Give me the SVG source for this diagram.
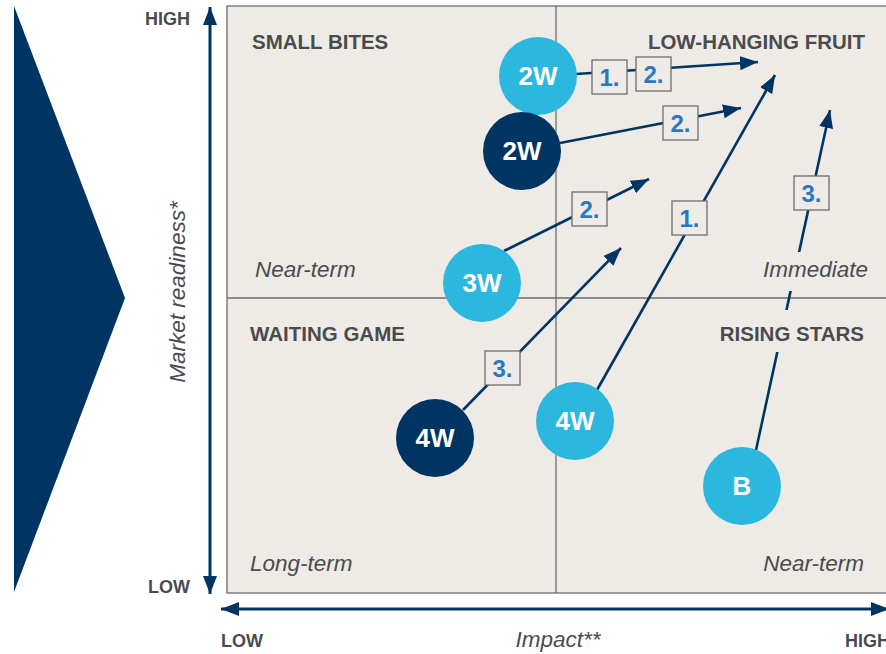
<svg xmlns="http://www.w3.org/2000/svg" width="886" height="654" viewBox="0 0 886 654">
<defs>
<marker id="ah" markerUnits="userSpaceOnUse" markerWidth="20" markerHeight="16" refX="18" refY="8" orient="auto">
<path d="M0,1 L18,8 L0,15 Z" fill="#003462"/>
</marker>
<marker id="ax" markerUnits="userSpaceOnUse" markerWidth="20" markerHeight="18" refX="18" refY="9" orient="auto-start-reverse">
<path d="M0,2 L18,9 L0,16 Z" fill="#003462"/>
</marker>
<style>
.q{font-family:"Liberation Sans",Arial,sans-serif;font-weight:bold;font-size:20.5px;fill:#4b4b4d}
.t{font-family:"Liberation Sans",Arial,sans-serif;font-style:italic;font-size:22.5px;fill:#4b4b4d}
.ax{font-family:"Liberation Sans",Arial,sans-serif;font-weight:bold;font-size:18px;fill:#4b4b4d}
.c{font-family:"Liberation Sans",Arial,sans-serif;font-size:26px;fill:#fff;text-anchor:middle;font-weight:bold}
.dk{fill:#003462}
.lt{fill:#2cb8de}
.cn{stroke:#003462;stroke-width:2.6;fill:none;marker-end:url(#ah)}
.bx{fill:#eeebe7;stroke:#6e6e6e;stroke-width:1.3}
.bt{font-family:"Liberation Sans",Arial,sans-serif;font-weight:bold;font-size:24px;fill:#2a78c2;text-anchor:middle}
.bg{fill:#eeebe7}
</style>
</defs>
<rect width="886" height="654" fill="#ffffff"/>
<polygon points="14,6 125,298 14,592" fill="#003462"/>
<g id="chart">
<rect x="227" y="6" width="662" height="587" fill="#eeebe7" stroke="#6e6e6e" stroke-width="1.3"/>
<line x1="556" y1="6" x2="556" y2="593" stroke="#6e6e6e" stroke-width="1.3"/>
<line x1="227" y1="298" x2="889" y2="298" stroke="#6e6e6e" stroke-width="1.3"/>
</g>
<g id="axes">
<line x1="210" y1="7" x2="210" y2="594" stroke="#003462" stroke-width="3" marker-start="url(#ax)" marker-end="url(#ax)"/>
<line x1="221" y1="609" x2="889" y2="609" stroke="#003462" stroke-width="3" marker-start="url(#ax)" marker-end="url(#ax)"/>
<text class="ax" x="190" y="25" text-anchor="end">HIGH</text>
<text class="ax" x="190" y="593" text-anchor="end">LOW</text>
<text class="ax" x="221" y="647">LOW</text>
<text class="ax" x="845" y="647">HIGH</text>
<text class="t" x="558" y="647" text-anchor="middle">Impact**</text>
<text class="t" transform="translate(185,292) rotate(-90)" text-anchor="middle">Market readiness*</text>
</g>
<g id="connectors">
<line class="cn" x1="576" y1="74" x2="758" y2="62"/>
<line class="cn" x1="560" y1="143" x2="741" y2="108"/>
<line class="cn" x1="504" y1="251" x2="649" y2="179"/>
<line class="cn" x1="463" y1="410" x2="621" y2="248"/>
<line class="cn" x1="597" y1="390" x2="775" y2="75"/>
<line class="cn" x1="756" y1="450" x2="830" y2="110"/>
</g>
<g id="quadrant-labels">
<rect class="bg" x="758" y="252" width="112" height="39"/>
<rect class="bg" x="720" y="310" width="148" height="42"/>
<text class="q" x="252" y="49">SMALL BITES</text>
<text class="q" x="865" y="49" text-anchor="end">LOW-HANGING FRUIT</text>
<text class="q" x="250" y="341">WAITING GAME</text>
<text class="q" x="864" y="341" text-anchor="end">RISING STARS</text>
<text class="t" x="255" y="277">Near-term</text>
<text class="t" x="868" y="277" text-anchor="end">Immediate</text>
<text class="t" x="250" y="571">Long-term</text>
<text class="t" x="864" y="571" text-anchor="end">Near-term</text>
</g>
<g id="n-2w-light"><circle class="lt" cx="538" cy="76" r="39"/><text class="c" x="538" y="85">2W</text></g>
<g id="n-2w-dark"><circle class="dk" cx="522" cy="151" r="39"/><text class="c" x="522" y="160">2W</text></g>
<g id="n-3w"><circle class="lt" cx="482" cy="283" r="39"/><text class="c" x="482" y="292">3W</text></g>
<g id="n-4w-dark"><circle class="dk" cx="435" cy="438" r="39"/><text class="c" x="435" y="447">4W</text></g>
<g id="n-4w-light"><circle class="lt" cx="575" cy="421" r="39"/><text class="c" x="575" y="430">4W</text></g>
<g id="n-b"><circle class="lt" cx="742" cy="486" r="39"/><text class="c" x="742" y="495">B</text></g>
<g id="b1"><rect class="bx" x="592" y="60" width="35" height="34"/><text class="bt" x="609.5" y="86">1.</text></g>
<g id="b2"><rect class="bx" x="636" y="57" width="35" height="34"/><text class="bt" x="653.5" y="83">2.</text></g>
<g id="b3"><rect class="bx" x="663" y="106" width="35" height="34"/><text class="bt" x="680.5" y="132">2.</text></g>
<g id="b4"><rect class="bx" x="572" y="192" width="35" height="34"/><text class="bt" x="589.5" y="218">2.</text></g>
<g id="b5"><rect class="bx" x="485" y="351" width="35" height="34"/><text class="bt" x="502.5" y="377">3.</text></g>
<g id="b6"><rect class="bx" x="672" y="201" width="35" height="34"/><text class="bt" x="689.5" y="227">1.</text></g>
<g id="b7"><rect class="bx" x="794" y="176" width="35" height="34"/><text class="bt" x="811.5" y="202">3.</text></g>
</svg>
